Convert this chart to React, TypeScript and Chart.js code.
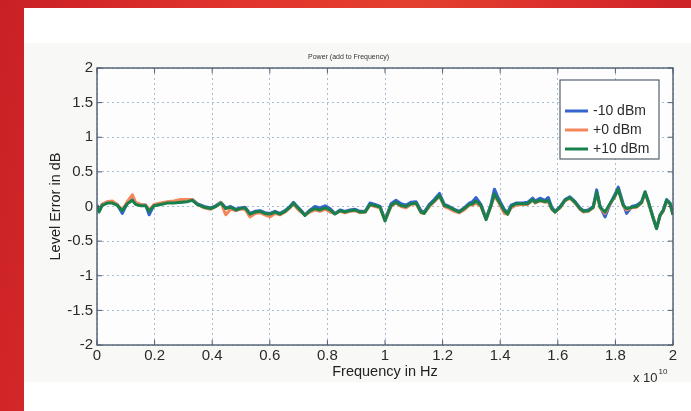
import React, { useEffect, useRef } from "react";
import { Chart, registerables } from "chart.js";

Chart.register(...registerables);

// Frequency in units of 1e10 Hz
const freqs = [
  0.0, 0.007, 0.018, 0.036, 0.053, 0.07, 0.088, 0.105, 0.123, 0.134, 0.152, 0.169, 0.181, 0.198, 0.221, 0.244,
  0.267, 0.291, 0.314, 0.331, 0.348, 0.372, 0.395, 0.412, 0.43, 0.447, 0.464, 0.482, 0.497, 0.514, 0.531, 0.549,
  0.566, 0.583, 0.601, 0.618, 0.635, 0.653, 0.67, 0.682, 0.693, 0.705, 0.722, 0.74, 0.757, 0.774, 0.792, 0.809,
  0.826, 0.844, 0.861, 0.878, 0.896, 0.913, 0.931, 0.948, 0.965, 0.983, 1.0, 1.021, 1.038, 1.056, 1.073, 1.09,
  1.108, 1.125, 1.136, 1.154, 1.171, 1.189, 1.206, 1.223, 1.241, 1.258, 1.275, 1.293, 1.304, 1.316, 1.333, 1.351,
  1.368, 1.38, 1.397, 1.414, 1.426, 1.438, 1.455, 1.478, 1.495, 1.513, 1.521, 1.538, 1.556, 1.567, 1.579, 1.59,
  1.608, 1.625, 1.642, 1.66, 1.677, 1.689, 1.706, 1.723, 1.735, 1.747, 1.764, 1.781, 1.799, 1.81, 1.827, 1.839,
  1.857, 1.874, 1.891, 1.903, 1.915, 1.932, 1.943, 1.955, 1.966, 1.978, 1.99, 2.0,
];

const levelMinus10 = [
  0.02, -0.06, 0.03, 0.06, 0.06, 0.03, -0.1, 0.05, 0.1, 0.04, 0.02, 0.02, -0.12, 0.02, 0.04, 0.06,
  0.06, 0.06, 0.08, 0.1, 0.04, 0.0, -0.02, 0.01, 0.06, -0.02, 0.0, -0.04, -0.02, -0.01, -0.1, -0.07,
  -0.06, -0.09, -0.1, -0.07, -0.1, -0.06, 0.0, 0.06, 0.01, -0.04, -0.12, -0.05, 0.0, -0.02, 0.01, -0.03,
  -0.1, -0.05, -0.07, -0.05, -0.04, -0.07, -0.07, 0.05, 0.03, 0.0, -0.19, 0.04, 0.09, 0.04, 0.02, 0.06,
  0.07, -0.06, -0.08, 0.03, 0.1, 0.19, 0.03, 0.0, -0.04, -0.07, -0.02, 0.05, 0.07, 0.13, 0.03, -0.17,
  0.03, 0.25, 0.09, -0.04, -0.09, 0.02, 0.05, 0.05, 0.06, 0.12, 0.08, 0.12, 0.09, 0.13, -0.01, -0.07,
  0.0, 0.1, 0.14, 0.07, -0.02, -0.06, -0.05, 0.0, 0.24, 0.0, -0.15, 0.03, 0.18, 0.28, 0.04, -0.1,
  0.0, 0.02, 0.07, 0.21, 0.06, -0.17, -0.31, -0.12, -0.05, 0.1, 0.05, -0.11,
];

const levelZero = [
  0.0, -0.05, 0.03, 0.07, 0.08, 0.03, -0.05, 0.07, 0.17, 0.06, 0.03, 0.02, -0.05, 0.03, 0.05, 0.07,
  0.08, 0.1, 0.1, 0.1, 0.03, -0.02, -0.04, 0.0, 0.06, -0.12, -0.04, -0.06, -0.04, -0.04, -0.15, -0.1,
  -0.09, -0.12, -0.15, -0.1, -0.12, -0.08, -0.02, 0.04, -0.02, -0.07, -0.12, -0.08, -0.05, -0.07, -0.04, -0.08,
  -0.1, -0.07, -0.09, -0.07, -0.06, -0.09, -0.08, 0.02, 0.0, -0.02, -0.2, 0.0, 0.05, 0.0, -0.02, 0.03,
  0.04, -0.09, -0.1, 0.0, 0.07, 0.15, 0.0, -0.03, -0.07, -0.09, -0.05, 0.02, 0.02, 0.05, 0.0, -0.18,
  0.0, 0.16, 0.04, -0.1, -0.11, -0.02, 0.02, 0.03, 0.03, 0.09, 0.05, 0.08, 0.06, 0.07, -0.04, -0.08,
  -0.02, 0.08, 0.12, 0.05, -0.04, -0.08, -0.07, -0.02, 0.19, -0.02, -0.1, 0.03, 0.15, 0.24, 0.01, -0.05,
  -0.02, -0.01, 0.05, 0.2, 0.05, -0.18, -0.31, -0.13, -0.07, 0.08, 0.03, -0.12,
];

const levelPlus10 = [
  0.01, -0.08, 0.015, 0.05, 0.05, 0.02, -0.06, 0.04, 0.09, 0.03, 0.01, 0.01, -0.07, 0.01, 0.03, 0.05,
  0.05, 0.06, 0.07, 0.09, 0.03, -0.01, -0.03, 0.0, 0.05, -0.03, -0.01, -0.05, -0.03, -0.02, -0.11, -0.08,
  -0.07, -0.1, -0.11, -0.08, -0.11, -0.07, -0.01, 0.05, 0.0, -0.05, -0.13, -0.06, -0.03, -0.05, -0.02, -0.05,
  -0.11, -0.06, -0.08, -0.06, -0.05, -0.08, -0.08, 0.03, 0.015, -0.01, -0.21, 0.015, 0.06, 0.015, 0.0, 0.04,
  0.05, -0.08, -0.1, 0.015, 0.08, 0.16, 0.015, -0.01, -0.05, -0.08, -0.03, 0.03, 0.04, 0.08, 0.015, -0.19,
  0.015, 0.18, 0.06, -0.06, -0.11, 0.0, 0.04, 0.04, 0.04, 0.1, 0.06, 0.09, 0.07, 0.09, -0.03, -0.08,
  -0.01, 0.09, 0.13, 0.06, -0.03, -0.07, -0.06, -0.01, 0.21, -0.01, -0.08, 0.04, 0.16, 0.25, 0.02, -0.03,
  -0.01, 0.0, 0.06, 0.21, 0.06, -0.18, -0.32, -0.13, -0.06, 0.09, 0.04, -0.12,
];

const seriesLabels = ["-10 dBm", "+0 dBm", "+10 dBm"];
const seriesColors = ["#3563cf", "#f4875a", "#17804b"];

const xTickValues = [0, 0.2, 0.4, 0.6, 0.8, 1, 1.2, 1.4, 1.6, 1.8, 2];
const xTickLabels = ["0", "0.2", "0.4", "0.6", "0.8", "1", "1.2", "1.4", "1.6", "1.8", "2"];
const yTickValues = [-2, -1.5, -1, -0.5, 0, 0.5, 1, 1.5, 2];
const yTickLabels = ["-2", "-1.5", "-1", "-0.5", "0", "0.5", "1", "1.5", "2"];

const chartTitle = "Power (add to Frequency)";
const xAxisTitle = "Frequency in Hz";
const yAxisTitle = "Level Error in dB";
const xExponentBase = "x 10";
const xExponent = "10";

const FONT = "'Liberation Sans', Arial, sans-serif";

const decorPlugin = {
  id: "decor",
  beforeDraw(chart: any) {
    const { ctx, chartArea } = chart;
    ctx.save();
    ctx.fillStyle = "#fdfdfd";
    ctx.fillRect(chartArea.left, chartArea.top, chartArea.right - chartArea.left, chartArea.bottom - chartArea.top);
    ctx.restore();
  },
  afterDraw(chart: any) {
    const { ctx, chartArea } = chart;
    const xs = chart.scales.x;
    const ys = chart.scales.y;
    const L = chartArea.left, R = chartArea.right, T = chartArea.top, B = chartArea.bottom;
    ctx.save();
    // frame
    ctx.strokeStyle = "#4f5d70";
    ctx.lineWidth = 1.4;
    ctx.strokeRect(L, T, R - L, B - T);
    // inward ticks
    ctx.lineWidth = 1;
    ctx.beginPath();
    xTickValues.forEach((v) => {
      const px = xs.getPixelForValue(v);
      ctx.moveTo(px, B);
      ctx.lineTo(px, B - 5);
      ctx.moveTo(px, T);
      ctx.lineTo(px, T + 5);
    });
    yTickValues.forEach((v) => {
      const py = ys.getPixelForValue(v);
      ctx.moveTo(L, py);
      ctx.lineTo(L + 5, py);
      ctx.moveTo(R, py);
      ctx.lineTo(R - 5, py);
    });
    ctx.stroke();

    // legend box
    const bx = R - 113, by = T + 12, bw = 99, bh = 79;
    ctx.fillStyle = "#ffffff";
    ctx.fillRect(bx, by, bw, bh);
    ctx.strokeStyle = "#555f6c";
    ctx.lineWidth = 1.2;
    ctx.strokeRect(bx, by, bw, bh);
    ctx.font = `14px ${FONT}`;
    ctx.textBaseline = "middle";
    ctx.textAlign = "left";
    seriesLabels.forEach((lab, i) => {
      const ry = by + 31 + i * 19;
      ctx.strokeStyle = seriesColors[i];
      ctx.lineWidth = 3;
      ctx.beginPath();
      ctx.moveTo(bx + 5, ry);
      ctx.lineTo(bx + 28, ry);
      ctx.stroke();
      ctx.fillStyle = "#2b2b2b";
      ctx.fillText(lab, bx + 33, ry);
    });

    // exponent label
    ctx.fillStyle = "#2b2b2b";
    ctx.textBaseline = "alphabetic";
    ctx.font = `13px ${FONT}`;
    const ex = R - 40;
    ctx.fillText(xExponentBase, ex, 374);
    const w = ctx.measureText(xExponentBase).width;
    ctx.font = `8px ${FONT}`;
    ctx.fillText(xExponent, ex + w + 1, 366);
    ctx.restore();
  },
};

export default function App() {
  const ref = useRef<HTMLCanvasElement>(null);

  useEffect(() => {
    if (!ref.current) return;
    const seriesData = [levelMinus10, levelZero, levelPlus10];
    const chart = new Chart(ref.current, {
      type: "line",
      data: {
        datasets: seriesData.map((arr, i) => ({
          label: seriesLabels[i],
          data: freqs.map((f, j) => ({ x: f, y: arr[j] })),
          borderColor: seriesColors[i],
          backgroundColor: seriesColors[i],
          borderWidth: 3,
          pointRadius: 0,
          tension: 0,
          fill: false,
          borderJoinStyle: "round" as const,
          order: 3 - i,
        })),
      },
      options: {
        responsive: false,
        animation: false,
        layout: { padding: { left: 0, right: 18, top: 0, bottom: 0 } },
        plugins: {
          legend: { display: false },
          tooltip: { enabled: false },
          title: {
            display: true,
            text: chartTitle,
            color: "#333",
            font: { family: FONT, size: 7, weight: "normal" as const },
            padding: { top: 44.6, bottom: 7 },
          },
        },
        scales: {
          x: {
            type: "linear",
            min: 0,
            max: 2,
            afterBuildTicks: (s: any) => {
              s.ticks = xTickValues.map((v) => ({ value: v }));
            },
            afterFit: (s: any) => {
              s.height = 66;
            },
            ticks: {
              color: "#2b2b2b",
              font: { family: FONT, size: 15 },
              padding: 2,
              maxRotation: 0,
              autoSkip: false,
              callback: (v: any) => xTickLabels[xTickValues.indexOf(Number(v))],
            },
            grid: { color: "#a9bcd2", lineWidth: 1, drawTicks: false },
            border: { display: false, dash: [2, 3] },
            title: {
              display: true,
              text: xAxisTitle,
              color: "#222",
              font: { family: FONT, size: 14.5 },
              padding: { top: 0, bottom: 30.3 },
            },
          },
          y: {
            type: "linear",
            min: -2,
            max: 2,
            afterBuildTicks: (s: any) => {
              s.ticks = yTickValues.map((v) => ({ value: v }));
            },
            afterFit: (s: any) => {
              s.width = 73;
            },
            ticks: {
              color: "#2b2b2b",
              font: { family: FONT, size: 15 },
              padding: 4,
              autoSkip: false,
              callback: (v: any) => yTickLabels[yTickValues.indexOf(Number(v))],
            },
            grid: { color: "#a9bcd2", lineWidth: 1, drawTicks: false },
            border: { display: false, dash: [2, 3] },
            title: {
              display: true,
              text: yAxisTitle,
              color: "#222",
              font: { family: FONT, size: 14.5 },
              padding: { top: 23.3, bottom: 0 },
            },
          },
        },
      },
      plugins: [decorPlugin],
    } as any);
    return () => chart.destroy();
  }, []);

  return (
    <div
      style={{
        position: "fixed",
        left: 0,
        top: 0,
        width: 691,
        height: 411,
        overflow: "hidden",
        background: "linear-gradient(100deg, #c92026 0%, #e0332c 30%, #e4402f 55%, #d62a2a 80%, #c41e26 100%)",
      }}
    >
      <div style={{ position: "absolute", left: 24, top: 8, width: 667, height: 403, background: "#ffffff" }} />
      <div style={{ position: "absolute", left: 24, top: 43, width: 667, height: 339, background: "#f8f8f6" }} />
      <div style={{ position: "absolute", left: 24, top: 8, width: 667, height: 403 }}>
        <canvas ref={ref} width={667} height={403} style={{ display: "block", width: 667, height: 403 }} />
      </div>
    </div>
  );
}
